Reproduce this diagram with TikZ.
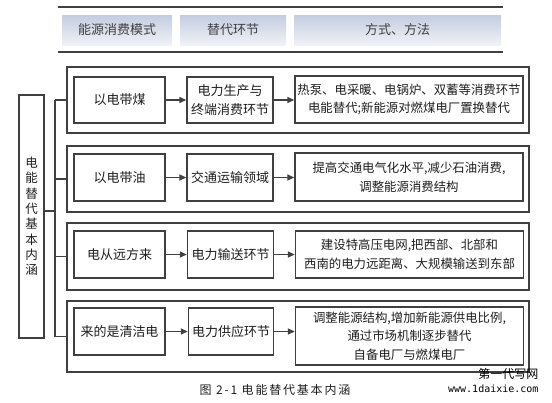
\documentclass[tikz,border=0pt]{standalone}
\usepackage{fontspec}
\setmainfont{Noto Sans CJK SC}
\newfontfamily\capfont[LetterSpace=15]{Noto Sans CJK SC}
\newfontfamily\markfont{DejaVu Sans Mono}
\usetikzlibrary{arrows.meta,positioning}
\definecolor{eline}{RGB}{64,64,64}
\definecolor{etext}{RGB}{30,30,30}
\definecolor{ehead}{RGB}{196,204,224}
\definecolor{eheadlow}{RGB}{240,242,247}
\tikzset{
  headbox/.style={top color=ehead,bottom color=eheadlow,draw=none,minimum height=30pt,text=eline,font=\fontsize{13}{15}\selectfont},
  groupbox/.style={draw=eline,line width=1.4pt,minimum width=462pt},
  itembox/.style={draw=eline,line width=1.4pt,text=etext,align=center,inner sep=1pt,font=\fontsize{13}{18.5}\selectfont},
  wayitem/.style={itembox,minimum width=228pt,font=\fontsize{12.4}{18.5}\selectfont},
  flow/.style={draw=eline,line width=1.4pt,-{Triangle[length=7pt,width=6pt]}},
  tree/.style={draw=eline,line width=1.4pt},
}

\begin{document}
\begin{tikzpicture}[x=1pt,y=-1pt]
  \useasboundingbox (0,0) rectangle (552,402);
  % Header
  \draw[tree,line width=1.6pt] (58,7) -- (503,7);
  \draw[tree,line width=1.6pt] (58,52) -- (503,52);
  \node[headbox,minimum width=110pt] (hd1) at (117,30) {能源消费模式};
  \node[headbox,minimum width=106pt] (hd2) at (233,30) {替代环节};
  \node[headbox,minimum width=207pt] (hd3) at (397.5,30) {方式、方法};
  % Root
  \node[itembox,minimum width=25pt,minimum height=243pt,font=\fontsize{12.5}{15.3}\selectfont]
    (root) at (31.5,216.5) {电\\能\\替\\代\\基\\本\\内\\涵};
  % Group frames
  \node[groupbox,minimum height=66pt] (grp1) at (298,100) {};
  \node[groupbox,minimum height=66pt] (grp2) at (298,179) {};
  \node[groupbox,minimum height=67pt] (grp3) at (298,256.5) {};
  \node[groupbox,minimum height=71pt] (grp4) at (298,336.5) {};
  % Row 1
  \node[itembox,minimum width=91pt,minimum height=46pt] (mode1) at (119.5,100) {以电带煤};
  \node[itembox,minimum width=86pt,minimum height=46pt] (link1) at (230,100) {电力生产与\\终端消费环节};
  \node[wayitem,minimum height=47pt] (way1) at (409,99.5) {热泵、电采暖、电锅炉、双蓄等消费环节\\电能替代;新能源对燃煤电厂置换替代};
  % Row 2
  \node[itembox,minimum width=91pt,minimum height=47pt] (mode2) at (119.5,177.5) {以电带油};
  \node[itembox,minimum width=86pt,minimum height=47pt] (link2) at (230,177.5) {交通运输领域};
  \node[wayitem,minimum height=48pt] (way2) at (409,177) {提高交通电气化水平,减少石油消费,\\调整能源消费结构};
  % Row 3
  \node[itembox,minimum width=91pt,minimum height=47pt] (mode3) at (119.5,254.5) {电从远方来};
  \node[itembox,minimum width=86pt,minimum height=47pt] (link3) at (230.5,254.5) {电力输送环节};
  \node[wayitem,minimum height=47pt] (way3) at (409.5,254.5) {建设特高压电网,把西部、北部和\\西南的电力远距离、大规模输送到东部};
  % Row 4
  \node[itembox,minimum width=91pt,minimum height=47pt] (mode4) at (119.5,331.5) {来的是清洁电};
  \node[itembox,minimum width=85pt,minimum height=47pt] (link4) at (231,331.5) {电力供应环节};
  \node[wayitem,minimum height=58pt] (way4) at (409.5,336) {调整能源结构,增加新能源供电比例,\\通过市场机制逐步替代\\自备电厂与燃煤电厂};
  % Arrows
  \foreach \r in {1,...,4} {
    \draw[flow] (mode\r.east) -- (mode\r.east -| link\r.west);
    \draw[flow] (link\r.east) -- (link\r.east -| way\r.west);
  }
  % Tree
  \coordinate (trunk) at (55,211);
  \draw[tree] (root.east |- trunk) -- (trunk);
  \draw[tree] (trunk |- grp1.west) -- (trunk |- grp4.west);
  \foreach \g in {1,...,4}
    \draw[tree] (trunk |- grp\g.west) -- (grp\g.west);
  % Caption
  \node[font=\fontsize{12}{14}\capfont,text=etext] (caption) at (275,390) {图 2-1 电能替代基本内涵};
  \node[anchor=east,font=\fontsize{12}{13}\selectfont,text=black] (markcn) at (542,374) {第一代写网};
  \node[anchor=east,font=\fontsize{10}{12}\markfont,text=black] (markurl) at (542,389) {www.1daixie.com};
\end{tikzpicture}
\end{document}
